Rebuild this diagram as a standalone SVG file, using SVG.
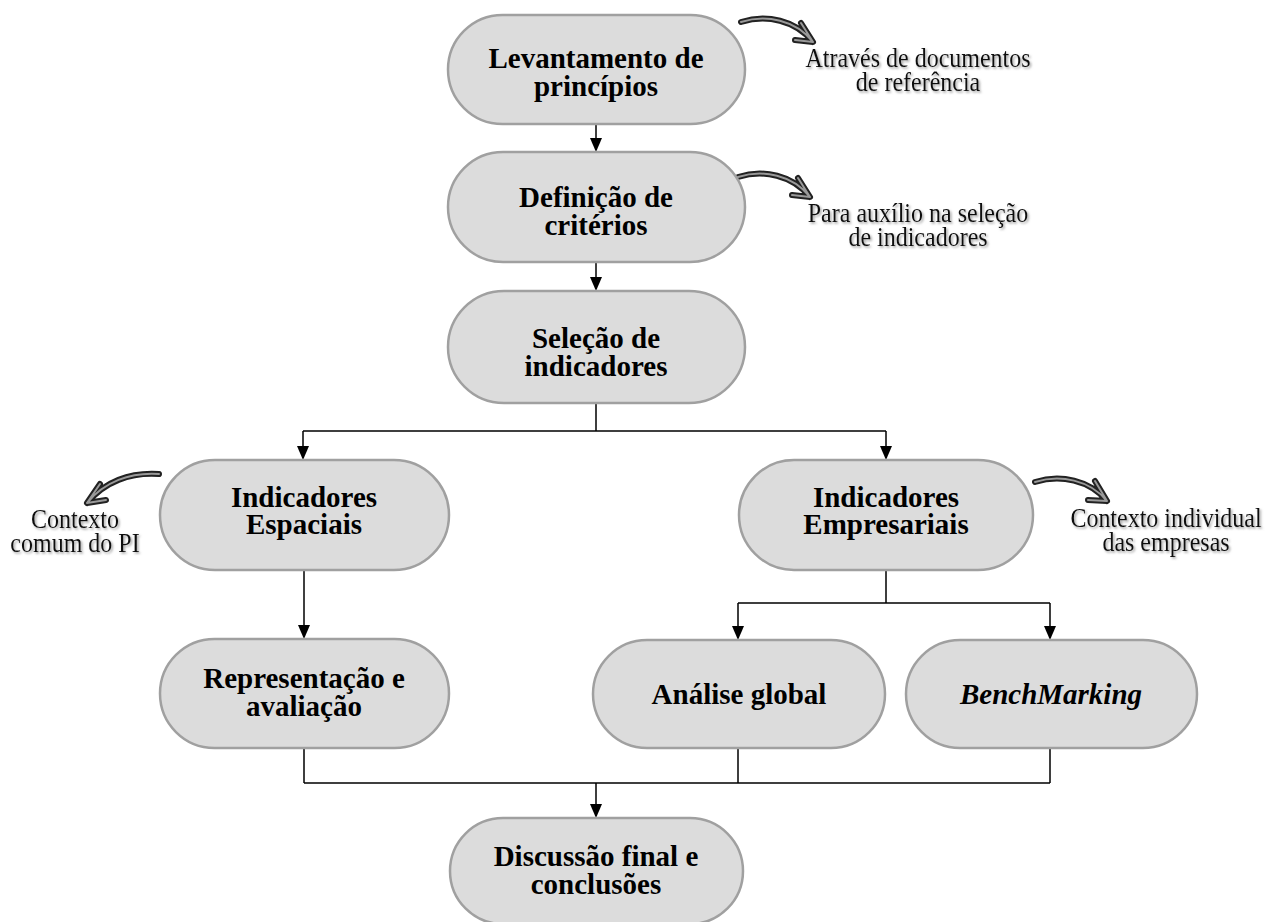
<svg xmlns="http://www.w3.org/2000/svg" width="1265" height="922" viewBox="0 0 1265 922">
<defs>
<style>
.pill{fill:#dcdcdc;stroke:#a0a0a0;stroke-width:2.5}
.lbl{font-family:"Liberation Serif","Times New Roman",serif;font-size:29px;font-weight:bold;fill:#000;text-anchor:middle}
.ann{font-family:"Liberation Serif","Times New Roman",serif;font-size:24px;fill:#111;text-anchor:middle;filter:url(#sh)}
.ln{fill:none;stroke:#000;stroke-width:1.5}
.co{fill:none;stroke:#222;stroke-width:6;stroke-linecap:round;stroke-linejoin:round}
.ci{fill:none;stroke:#999;stroke-width:2;stroke-linecap:round;stroke-linejoin:round}
</style>
<filter id="sh" x="-10%" y="-30%" width="120%" height="160%">
<feDropShadow dx="1.5" dy="1.5" stdDeviation="1" flood-color="#777" flood-opacity="0.7"/>
</filter>
</defs>
<rect width="1265" height="922" fill="#fff"/>

<g id="connectors">
<path class="ln" d="M596,124 V138"/>
<path d="M590,138 L602,138 L596,152 Z"/>
<path class="ln" d="M596,262 V277"/>
<path d="M590,277 L602,277 L596,291 Z"/>
<path class="ln" d="M596,403 V431 M303,431 H886 M303,431 V446 M886,431 V446"/>
<path d="M297,446 L309,446 L303,460 Z"/>
<path d="M880,446 L892,446 L886,460 Z"/>
<path class="ln" d="M304,570 V625"/>
<path d="M298,625 L310,625 L304,639 Z"/>
<path class="ln" d="M886,570 V603 M738,603 H1050 M738,603 V626 M1050,603 V626"/>
<path d="M732,626 L744,626 L738,640 Z"/>
<path d="M1044,626 L1056,626 L1050,640 Z"/>
<path class="ln" d="M304,748 V783 M738,748 V783 M1050,748 V783 M304,783 H1050 M596,783 V804"/>
<path d="M590,804 L602,804 L596,818 Z"/>
</g>

<g id="curved-arrows">
<path class="co" d="M741,22 C766,14 796,20 813,42 M801,23 L813,42 L795,40"/>
<path class="ci" d="M741,22 C766,14 796,20 813,42 M801,23 L813,42 L795,40"/>
<path class="co" d="M738,177 C763,169 793,175 810,197 M798,178 L810,197 L792,195"/>
<path class="ci" d="M738,177 C763,169 793,175 810,197 M798,178 L810,197 L792,195"/>
<path class="co" d="M159,474 C130,472 104,482 87,503 M100,484 L87,503 L106,500"/>
<path class="ci" d="M159,474 C130,472 104,482 87,503 M100,484 L87,503 L106,500"/>
<path class="co" d="M1035,482 C1060,474 1090,480 1107,501 M1095,481 L1107,501 L1088,500"/>
<path class="ci" d="M1035,482 C1060,474 1090,480 1107,501 M1095,481 L1107,501 L1088,500"/>
</g>

<g id="n1">
<rect class="pill" x="448" y="15" width="297" height="109" rx="54.5"/>
<text class="lbl" x="596" y="68">Levantamento de</text>
<text class="lbl" x="596" y="96">princípios</text>
</g>
<g id="n2">
<rect class="pill" x="448" y="152" width="297" height="110" rx="55"/>
<text class="lbl" x="596" y="207">Definição de</text>
<text class="lbl" x="596" y="235">critérios</text>
</g>
<g id="n3">
<rect class="pill" x="448" y="291" width="297" height="112" rx="56"/>
<text class="lbl" x="596" y="348">Seleção de</text>
<text class="lbl" x="596" y="376">indicadores</text>
</g>
<g id="n4">
<rect class="pill" x="160" y="460" width="289" height="110" rx="55"/>
<text class="lbl" x="304" y="507">Indicadores</text>
<text class="lbl" x="304" y="534">Espaciais</text>
</g>
<g id="n5">
<rect class="pill" x="739" y="460" width="294" height="110" rx="55"/>
<text class="lbl" x="886" y="507">Indicadores</text>
<text class="lbl" x="886" y="534">Empresariais</text>
</g>
<g id="n6">
<rect class="pill" x="160" y="639" width="289" height="109" rx="54.5"/>
<text class="lbl" x="304" y="688">Representação e</text>
<text class="lbl" x="304" y="716">avaliação</text>
</g>
<g id="n7">
<rect class="pill" x="593" y="640" width="292" height="108" rx="54"/>
<text class="lbl" x="739" y="704">Análise global</text>
</g>
<g id="n8">
<rect class="pill" x="906" y="640" width="291" height="108" rx="54"/>
<text class="lbl" x="1051" y="704" font-style="italic">BenchMarking</text>
</g>
<g id="n9">
<rect class="pill" x="450" y="818" width="293" height="106" rx="53"/>
<text class="lbl" x="596" y="866">Discussão final e</text>
<text class="lbl" x="596" y="894">conclusões</text>
</g>

<g id="annotations">
<text class="ann" transform="translate(918,67) scale(1,1.1)">Através de documentos</text>
<text class="ann" transform="translate(918,91) scale(1,1.1)">de referência</text>
<text class="ann" transform="translate(918,222) scale(1,1.1)">Para auxílio na seleção</text>
<text class="ann" transform="translate(918,246) scale(1,1.1)">de indicadores</text>
<text class="ann" transform="translate(75,528) scale(1,1.1)">Contexto</text>
<text class="ann" transform="translate(75,552) scale(1,1.1)">comum do PI</text>
<text class="ann" transform="translate(1166,527) scale(1,1.1)">Contexto individual</text>
<text class="ann" transform="translate(1166,551) scale(1,1.1)">das empresas</text>
</g>
</svg>
